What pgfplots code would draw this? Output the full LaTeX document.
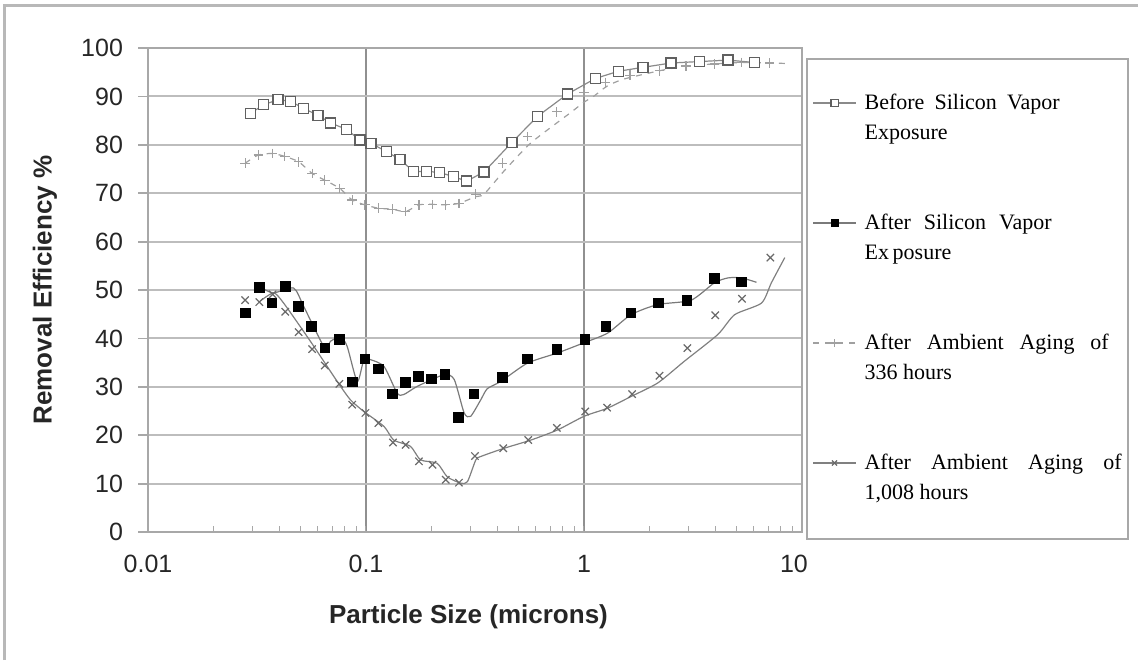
\documentclass[border=0pt]{standalone}
\usepackage{pgfplots}
\pgfplotsset{compat=1.18}
\usepackage{fontspec}
\setmainfont{Liberation Sans}
\newfontfamily\timesfont{Liberation Serif}
\definecolor{hgrid}{HTML}{BDBDBD}
\definecolor{vgrid}{HTML}{909090}
\definecolor{axisc}{HTML}{A8A8A8}
\definecolor{borderc}{HTML}{B8B8B8}
\definecolor{sonemark}{HTML}{606060}
\definecolor{soneline}{HTML}{8A8A8A}
\definecolor{stwoline}{HTML}{7A7A7A}
\definecolor{sthree}{HTML}{A0A0A0}
\definecolor{sfour}{HTML}{6A6A6A}
\definecolor{sfourline}{HTML}{808080}
\pgfplotsset{
  legtwo/.style={legend image code/.code={\draw[color=stwoline, line width=0.6pt] (0pt,0pt) -- (21.5pt,0pt); \draw[only marks, mark=square*, black, mark size=1.8pt] plot coordinates {(10.75pt,0pt)};}},
  legthree/.style={legend image code/.code={\draw[color=sthree, line width=0.6pt, dashed] (0pt,0pt) -- (21.5pt,0pt); \draw[only marks, mark=+, color=sthree, line width=0.6pt, mark size=1.8pt] plot coordinates {(10.75pt,0pt)};}},
  legfour/.style={legend image code/.code={\draw[color=sfourline, line width=0.6pt] (0pt,0pt) -- (21.5pt,0pt); \draw[only marks, mark=x, color=sfour, line width=0.6pt, mark size=1.8pt] plot coordinates {(10.75pt,0pt)};}},
  legone/.style={legend image code/.code={\draw[color=soneline, line width=0.6pt] (0pt,0pt) -- (21.5pt,0pt); \draw[only marks, mark=square*, mark options={fill=white, draw=sonemark, line width=0.6pt}, mark size=1.8pt] plot coordinates {(10.75pt,0pt)};}},
}
\begin{document}
\begin{tikzpicture}
\useasboundingbox (-74pt,-64pt) rectangle (495pt,266pt);
\draw[borderc, line width=1.5pt] (-71.5pt,-64pt) -- (-71.5pt,263pt) -- (495pt,263pt);
\draw[axisc, line width=1pt] (329.5pt,-3.5pt) rectangle (490pt,236.5pt);
\begin{axis}[
  at={(0pt,0pt)}, anchor=south west,
  scale only axis, width=327pt, height=242pt,
  xmode=log, xmin=0.01, xmax=10, ymin=0, ymax=100,
  xtick={0.01,0.1,1,10},
  xticklabels={0.01,0.1,1,{\kern-8pt 10}},
  ytick={0,10,...,100},
  xmajorgrids, ymajorgrids,
  x grid style={color=vgrid, line width=0.8pt},
  y grid style={color=hgrid, line width=1pt},
  axis line style={color=axisc, line width=0.9pt},
  xtick pos=left, ytick pos=left,
  ytick align=outside, xtick align=inside,
  major tick length=5pt, minor tick length=3pt,
  major x tick style={draw=none},
  minor x tick style={color=axisc, line width=0.5pt},
  major y tick style={color=axisc, line width=0.9pt},
  tick label style={font=\fontsize{12.5}{15}\selectfont, color=black!85},
  /pgf/number format/assume math mode=true,
  yticklabel style={xshift=-4pt},
  xticklabel style={yshift=-8pt},
  xlabel={Particle Size (microns)},
  ylabel={Removal Efficiency \%},
  label style={font=\bfseries\fontsize{13}{15}\selectfont, color=black!85},
  xlabel style={at={(axis description cs:0.490,-0.1756)}, anchor=center},
  ylabel style={at={(axis description cs:-0.1575,0.5)}, anchor=center},
  legend style={at={(1.0153,0.5145)}, anchor=west, draw=none, fill=none,
    inner sep=0pt, row sep=47pt, column sep=4pt,
    font=\timesfont\fontsize{11}{13}\selectfont,
    nodes={inner sep=0pt, text height=10pt, text depth=3pt}},
  legend cell align=left,
]
% Series 1: Before Silicon Vapor Exposure
\addplot[legone, color=soneline, line width=0.6pt, mark=square*, mark size=2.5pt,
  mark options={solid, fill=white, draw=sonemark, line width=0.7pt}]
coordinates {
(0.0296,86.5) (0.0339,88.3) (0.0395,89.3) (0.0451,89.0) (0.0518,87.5)
(0.0603,86.1) (0.0689,84.5) (0.0813,83.2) (0.0937,81.0) (0.1056,80.3)
(0.124,78.6) (0.143,77.0) (0.165,74.5) (0.190,74.5) (0.218,74.3)
(0.252,73.4) (0.290,72.5) (0.348,74.4) (0.467,80.5) (0.613,85.9)
(0.841,90.5) (1.127,93.7) (1.438,95.2) (1.862,96.0) (2.51,96.9)
(3.39,97.2) (4.58,97.5) (6.07,97.0)
};
\addlegendentry{\makebox[97.5pt][s]{Before Silicon Vapor}\llap{\raisebox{-15pt}[0pt][0pt]{\makebox[97.5pt][l]{Exposure}}}}
% Series 2 curve
\addplot[forget plot, color=stwoline, line width=0.6pt, smooth, tension=0.4, no marks]
coordinates {
(0.0333,50.4) (0.0377,49.4) (0.0466,50.4) (0.0518,46.6) (0.0647,38.0)
(0.0687,39.4) (0.0763,40.3) (0.0819,38.4) (0.0912,31.1) (0.0978,35.6)
(0.105,35.6) (0.121,34.2) (0.139,28.7) (0.149,28.4) (0.172,30.1)
(0.228,32.5) (0.254,31.5) (0.282,24.6) (0.302,23.9) (0.336,27.3)
(0.360,29.6) (0.415,31.1) (0.551,34.9) (0.757,37.0) (1.00,39.1)
(1.284,41.1) (1.644,44.9) (2.18,47.0) (3.10,47.9) (3.97,51.5)
(4.58,52.5) (5.27,52.5) (6.18,51.6)
};
% Series 2 marks: After Silicon Vapor Exposure
\addplot[legtwo, only marks, mark=square*, mark size=2.4pt, color=black]
coordinates {
(0.0279,45.3) (0.0324,50.5) (0.0370,47.3) (0.0426,50.8) (0.0491,46.6)
(0.0562,42.5) (0.0647,38.0) (0.0755,39.8) (0.0864,31.0) (0.0988,35.8)
(0.114,33.7) (0.132,28.5) (0.152,30.9) (0.174,32.2) (0.200,31.6)
(0.230,32.6) (0.265,23.7) (0.313,28.5) (0.423,32.0) (0.551,35.8)
(0.751,37.7) (1.01,39.8) (1.262,42.5) (1.644,45.3) (2.20,47.3)
(2.97,47.9) (3.97,52.4) (5.27,51.7)
};
\addlegendentry{\makebox[93.5pt][s]{After Silicon Vapor}\llap{\raisebox{-15pt}[0pt][0pt]{\makebox[93.5pt][l]{Ex\,posure}}}}
% Series 3 dashed curve
\addplot[forget plot, color=sthree, line width=0.6pt, dashed, smooth, tension=0.4, no marks]
coordinates {
(0.0279,76.2) (0.0321,77.9) (0.0373,78.2) (0.0424,77.6) (0.0491,76.5)
(0.0566,74.1) (0.0647,72.7) (0.0758,71.0) (0.0864,68.6) (0.0988,67.6)
(0.114,66.9) (0.132,66.7) (0.152,66.2) (0.175,67.6) (0.202,67.7)
(0.232,67.6) (0.267,67.9) (0.319,69.3) (0.348,69.8) (0.430,74.6)
(0.561,80.1) (0.705,83.6) (0.871,86.7) (1.00,88.8) (1.114,90.1)
(1.284,92.2) (1.53,93.6) (2.22,95.3) (2.94,96.3) (3.97,96.7)
(5.27,97.0) (7.11,96.9) (8.5,96.8)
};
% Series 3 marks: After Ambient Aging of 336 hours
\addplot[legthree, only marks, mark=+, mark size=2.4pt, color=sthree, line width=0.6pt]
coordinates {
(0.0279,76.2) (0.0321,77.9) (0.0373,78.2) (0.0424,77.6) (0.0491,76.5)
(0.0566,74.1) (0.0647,72.7) (0.0758,71.0) (0.0864,68.6) (0.0988,67.6)
(0.114,66.9) (0.132,66.7) (0.152,66.2) (0.175,67.6) (0.202,67.7)
(0.232,67.6) (0.267,67.9) (0.319,69.8) (0.423,76.2) (0.551,81.7)
(0.751,86.8) (1.00,90.8) (1.253,92.9) (1.626,94.4) (2.22,95.3)
(2.94,96.3) (3.97,96.7) (5.27,97.0) (7.11,96.9)
};
\addlegendentry{\makebox[122pt][s]{After Ambient Aging of}\llap{\raisebox{-15pt}[0pt][0pt]{\makebox[122pt][l]{336 hours}}}}
% Series 4 curve
\addplot[forget plot, color=sfourline, line width=0.6pt, smooth, tension=0.4, no marks]
coordinates {
(0.0327,47.7) (0.0377,49.4) (0.0419,47.3) (0.0556,39.4) (0.0738,31.1)
(0.0849,27.3) (0.0978,24.9) (0.121,21.8) (0.134,19.0) (0.160,17.7)
(0.178,14.9) (0.212,14.2) (0.236,11.4) (0.272,10.1) (0.292,10.4)
(0.319,14.9) (0.336,15.6) (0.430,17.3) (0.571,19.0) (0.757,21.1)
(1.00,23.9) (1.284,25.6) (1.644,28.0) (2.18,30.8) (2.89,35.3)
(4.11,40.8) (4.91,44.9) (6.52,47.3) (7.24,51.5) (8.34,56.7)
};
% Series 4 marks: After Ambient Aging of 1,008 hours
\addplot[legfour, only marks, mark=x, mark size=2.6pt, color=sfour, line width=0.6pt]
coordinates {
(0.0279,47.9) (0.0324,47.5) (0.0373,49.1) (0.0426,45.5) (0.0491,41.3)
(0.0566,37.8) (0.0647,34.4) (0.0755,30.6) (0.0864,26.3) (0.0994,24.6)
(0.114,22.5) (0.133,18.5) (0.152,18.0) (0.175,14.6) (0.202,13.9)
(0.232,10.8) (0.267,10.2) (0.316,15.7) (0.426,17.3) (0.555,19.0)
(0.751,21.5) (1.014,24.9) (1.276,25.7) (1.663,28.5) (2.22,32.3)
(2.98,38.0) (4.00,44.8) (5.31,48.2) (7.16,56.7)
};
\addlegendentry{\makebox[128.5pt][s]{After Ambient Aging of}\llap{\raisebox{-15pt}[0pt][0pt]{\makebox[128.5pt][l]{1,008 hours}}}}
\end{axis}
\end{tikzpicture}
\end{document}
